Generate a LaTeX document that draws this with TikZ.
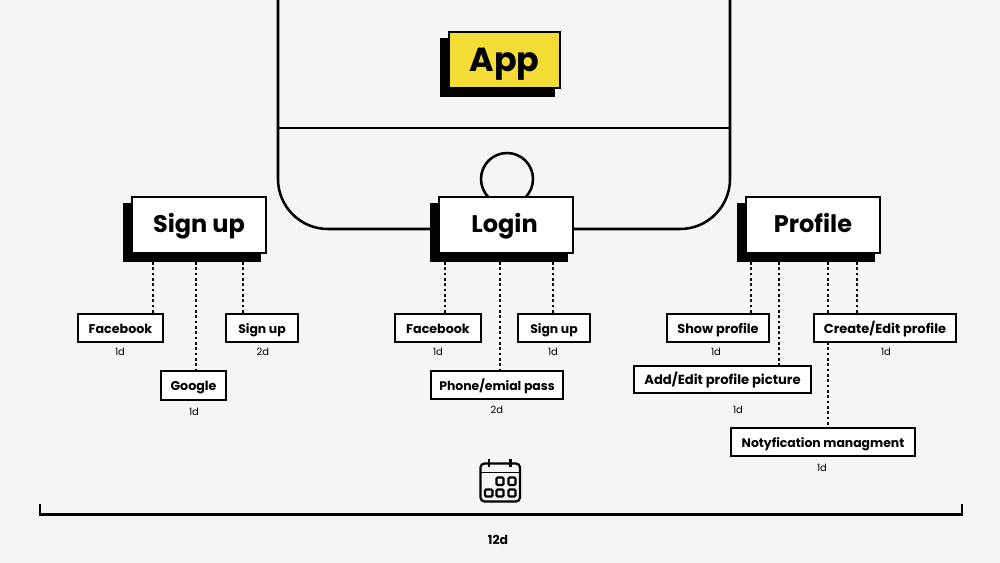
\documentclass[tikz,border=0pt]{standalone}
\usepackage{fontspec}
\setmainfont{Poppins}
\definecolor{bgc}{HTML}{F5F5F5}
\definecolor{appy}{HTML}{F4DC36}
\tikzset{
  x=0.75pt,y=-0.75pt,
  bigbox/.style={draw=black,line width=1.8pt,fill=white,inner sep=0pt,outer sep=0pt,text height=12.5pt,text depth=0.5pt,font=\fontsize{18}{20}\selectfont\bfseries},
  appbox/.style={bigbox,fill=appy,text height=18pt,text depth=0.5pt,font=\fontsize{25}{26}\selectfont\bfseries},
  shadowbox/.style={fill=black,draw=none,inner sep=0pt,outer sep=0pt},
  smallbox/.style={draw=black,line width=1.9pt,fill=white,inner sep=0pt,outer sep=0pt,text height=8pt,text depth=0.5pt,font=\fontsize{9.3}{11}\selectfont\bfseries},
  durlabel/.style={inner sep=0pt,font=\fontsize{7.5}{9}\selectfont},
  dotline/.style={line width=1.8pt,dash pattern=on 2pt off 2pt},
  frameline/.style={line width=1.9pt},
  iconline/.style={line width=1.6pt,rounded corners=0.8pt}
}
\newcommand{\bbox}[7][]{% font, name, x1, y1, x2, y2, text
  \node[smallbox,#1,minimum width={(#5-#3-1.8)*0.75pt},minimum height={(#6-#4-1.8)*0.75pt}] (#2) at ({(#3+#5)/2},{(#4+#6)/2}) {#7};}
\newcommand{\lbox}[7][bigbox]{%
  \node[shadowbox,minimum width={(#5-#3+2)*0.75pt},minimum height={(#6-#4+1)*0.75pt}] (#2s) at ({(#3+#5)/2-7},{(#4+#6)/2+7.5}) {};
  \node[#1,minimum width={(#5-#3-1.8)*0.75pt},minimum height={(#6-#4-1.8)*0.75pt}] (#2) at ({(#3+#5)/2},{(#4+#6)/2}) {#7};}
\begin{document}
\begin{tikzpicture}
\useasboundingbox[fill=bgc] (0,0) rectangle (1000,563);
% phone frame
\draw[frameline,rounded corners=37.5pt] (278,-4) -- (278,229) -- (730,229) -- (730,-4);
\draw[frameline] (278,128) -- (730,128);
\node[draw=black,line width=1.9pt,circle,minimum size=39pt,inner sep=0pt] (home) at (507,179) {};
% main boxes
\lbox[appbox]{app}{448}{31}{561}{89}{App}
\lbox{su}{131}{196}{267}{254}{Sign up}
\lbox{login}{438}{196}{574}{254}{Login\kern2.2pt}
\lbox{prof}{745}{196}{881}{254}{Profile}
% small boxes
\bbox[font=\fontsize{9.5}{11}\selectfont\bfseries]{fb}{77}{313}{164}{343}{Facebook}
\bbox[font=\fontsize{9.5}{11}\selectfont\bfseries]{goo}{160}{370}{227}{401}{Google}
\bbox{sg}{225}{313}{299}{343}{Sign up}
\bbox[font=\fontsize{9.5}{11}\selectfont\bfseries]{fbb}{394}{313}{482}{343}{Facebook}
\bbox{sgb}{517}{313}{591}{343}{Sign up}
\bbox{ph}{430}{370}{564}{400}{Phone/emial pass}
\bbox[font=\fontsize{9.65}{11}\selectfont\bfseries]{show}{666}{313}{770}{343}{Show profile}
\bbox[font=\fontsize{9.85}{11}\selectfont\bfseries]{add}{633}{365}{812}{394}{Add/Edit profile picture}
\bbox[font=\fontsize{9.75}{11}\selectfont\bfseries]{cre}{813}{313}{957}{343}{Create/Edit profile}
\bbox{noty}{730}{427}{916}{457}{Notyfication managment}
% dotted connectors
\draw[dotline] (153,0 |- sus.south) -- (153,0 |- fb.north);
\draw[dotline] (196,0 |- sus.south) -- (196,0 |- goo.north);
\draw[dotline] (243,0 |- sus.south) -- (243,0 |- sg.north);
\draw[dotline] (445,0 |- logins.south) -- (445,0 |- fbb.north);
\draw[dotline] (500,0 |- logins.south) -- (500,0 |- ph.north);
\draw[dotline] (553,0 |- logins.south) -- (553,0 |- sgb.north);
\draw[dotline] (751,0 |- profs.south) -- (751,0 |- show.north);
\draw[dotline] (779,0 |- profs.south) -- (779,0 |- add.north);
\draw[dotline] (828,0 |- profs.south) -- (828,0 |- cre.north);
\draw[dotline] (857,0 |- profs.south) -- (857,0 |- cre.north);
\draw[dotline] (828,0 |- cre.south) -- (828,0 |- noty.north);
% durations
\node[durlabel] (d1) at (120,352) {1d};
\node[durlabel] (d2) at (194,412) {1d};
\node[durlabel] (d3) at (263,352) {2d};
\node[durlabel] (d4) at (438,352) {1d};
\node[durlabel] (d5) at (553,352) {1d};
\node[durlabel] (d6) at (497,410) {2d};
\node[durlabel] (d7) at (716,352) {1d};
\node[durlabel] (d8) at (738,410) {1d};
\node[durlabel] (d9) at (886,352) {1d};
\node[durlabel] (d10) at (822,468) {1d};
% calendar icon
\draw[line width=1.7pt,rounded corners=3pt] (480.5,463.5) rectangle (520,501.5);
\draw[line width=1.4pt] (480.5,472.5) -- (520,472.5);
\draw[line width=1.7pt] (489,459) -- (489,467);
\draw[line width=1.7pt] (510.5,459) -- (510.5,467);
\draw[iconline] (496.5,477.5) rectangle (503.5,485);
\draw[iconline] (508.5,477.5) rectangle (515.5,485);
\draw[iconline] (485,489.5) rectangle (492.5,496.5);
\draw[iconline] (496.5,489.5) rectangle (503.5,496.5);
\draw[iconline] (508.5,489.5) rectangle (515.5,496.5);
% total bracket
\draw[frameline] (40,504) -- (40,514.5) -- (962,514.5) -- (962,504);
\node[inner sep=0pt,font=\fontsize{9.3}{11}\selectfont\bfseries] (total) at (498,540) {12d};
\end{tikzpicture}
\end{document}
